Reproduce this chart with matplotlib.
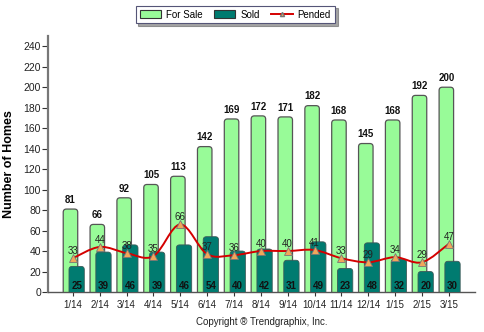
import matplotlib
matplotlib.use('Agg')
import matplotlib.pyplot as plt
from matplotlib.patches import FancyBboxPatch, Patch
from matplotlib.path import Path
from matplotlib.patches import PathPatch
from matplotlib.lines import Line2D
import numpy as np

plt.rcParams['font.family'] = ['Liberation Sans', 'DejaVu Sans']

# Data
months = ['1/14', '2/14', '3/14', '4/14', '5/14', '6/14', '7/14', '8/14',
          '9/14', '10/14', '11/14', '12/14', '1/15', '2/15', '3/15']
for_sale = [81, 66, 92, 105, 113, 142, 169, 172, 171, 182, 168, 145, 168, 192, 200]
sold = [25, 39, 46, 39, 46, 54, 40, 42, 31, 49, 23, 48, 32, 20, 30]
pended = [33, 44, 38, 35, 66, 37, 36, 40, 40, 41, 33, 29, 34, 29, 47]

green = '#98FB98'
teal = '#007B70'
red = '#D40000'
orange = '#F2A65A'
edge = '#555555'

fig = plt.figure(figsize=(4.84, 3.32), dpi=100)
ax = fig.add_axes([0.099, 0.1205, 0.882, 0.771])

x = np.arange(len(months))

bars_fs = ax.bar(x - 0.09, for_sale, width=0.54, color=green, edgecolor=edge, linewidth=0.9, zorder=2)
bars_sd = ax.bar(x + 0.14, sold, width=0.57, color=teal, edgecolor='#3c5a58', linewidth=0.6, zorder=3)

ax.set_xlim(-0.93, 14.97)
ax.set_ylim(0, 250)

# swap the plain rectangles for round-topped ones
aspect = 26.1
for bars in (bars_fs, bars_sd):
    for b in bars:
        b.set_visible(False)
        r = FancyBboxPatch((b.get_x(), -6), b.get_width(), b.get_height() + 6,
                           boxstyle='round,pad=0,rounding_size=0.12',
                           mutation_aspect=aspect,
                           fc=b.get_facecolor(), ec=b.get_edgecolor(),
                           lw=b.get_linewidth(), zorder=b.get_zorder())
        ax.add_patch(r)

# smooth pended line (Catmull-Rom as bezier)
pts = np.column_stack([x, pended]).astype(float)
verts = [pts[0]]
codes = [Path.MOVETO]
n = len(pts)
for i in range(n - 1):
    p0 = pts[i - 1] if i > 0 else pts[i]
    p1 = pts[i]
    p2 = pts[i + 1]
    p3 = pts[i + 2] if i + 2 < n else pts[i + 1]
    verts += [p1 + (p2 - p0) / 6, p2 - (p3 - p1) / 6, p2]
    codes += [Path.CURVE4] * 3
ax.add_patch(PathPatch(Path(verts, codes), fc='none', ec=red, lw=1.4, zorder=4))
ax.plot(x, pended, ls='none', marker='^', ms=5.5, mfc=orange, mec='#777777', mew=0.6, zorder=5)

# value labels
for xi, v in zip(x, for_sale):
    ax.text(xi - 0.09, v + 9, str(v), ha='center', va='center', fontsize=7, fontweight='bold', color='#111111')
for xi, v in zip(x, sold):
    ax.text(xi + 0.14, 6, str(v), ha='center', va='center', fontsize=7, fontweight='bold', color='#111111', zorder=6)
for xi, v in zip(x, pended):
    ax.text(xi, v + 7, str(v), ha='center', va='center', fontsize=7, color='#222222', zorder=6)

ax.set_xticks(x)
ax.set_xticklabels(months, fontsize=7)
ax.set_yticks(range(0, 241, 20))
ax.tick_params(axis='y', labelsize=7.5, length=4, width=0.8, color='#333333', labelcolor='#222222', pad=1)
ax.tick_params(axis='x', length=3, width=0.8, color='#333333', labelcolor='#222222', pad=3)
ax.set_ylabel('Number of Homes', fontsize=9, fontweight='bold', labelpad=6)

for s in ('top', 'right'):
    ax.spines[s].set_visible(False)
ax.spines['left'].set_color('#777777')
ax.spines['left'].set_linewidth(1.6)
ax.spines['bottom'].set_color('#555555')
ax.spines['bottom'].set_linewidth(1.0)

handles = [Patch(fc=green, ec='#333333', lw=0.8, label='For Sale'),
           Patch(fc=teal, ec='#333333', lw=0.8, label='Sold'),
           Line2D([], [], color=red, lw=1.4, marker='^', ms=3, mfc=orange, mec='#777777', label='Pended')]
leg = fig.legend(handles=handles, loc='center', bbox_to_anchor=(0.486, 0.956), ncol=3,
                 fontsize=7, frameon=True, fancybox=False, shadow=True,
                 handlelength=2.2, handleheight=0.9, columnspacing=1.2, handletextpad=0.5,
                 borderpad=0.4)
leg.get_frame().set_edgecolor('#555577')
leg.get_frame().set_linewidth(0.8)

fig.text(0.54, 0.031, 'Copyright \u00ae Trendgraphix, Inc.', ha='center', va='center', fontsize=7, color='#222222')

fig.savefig('out.png', dpi=100)
